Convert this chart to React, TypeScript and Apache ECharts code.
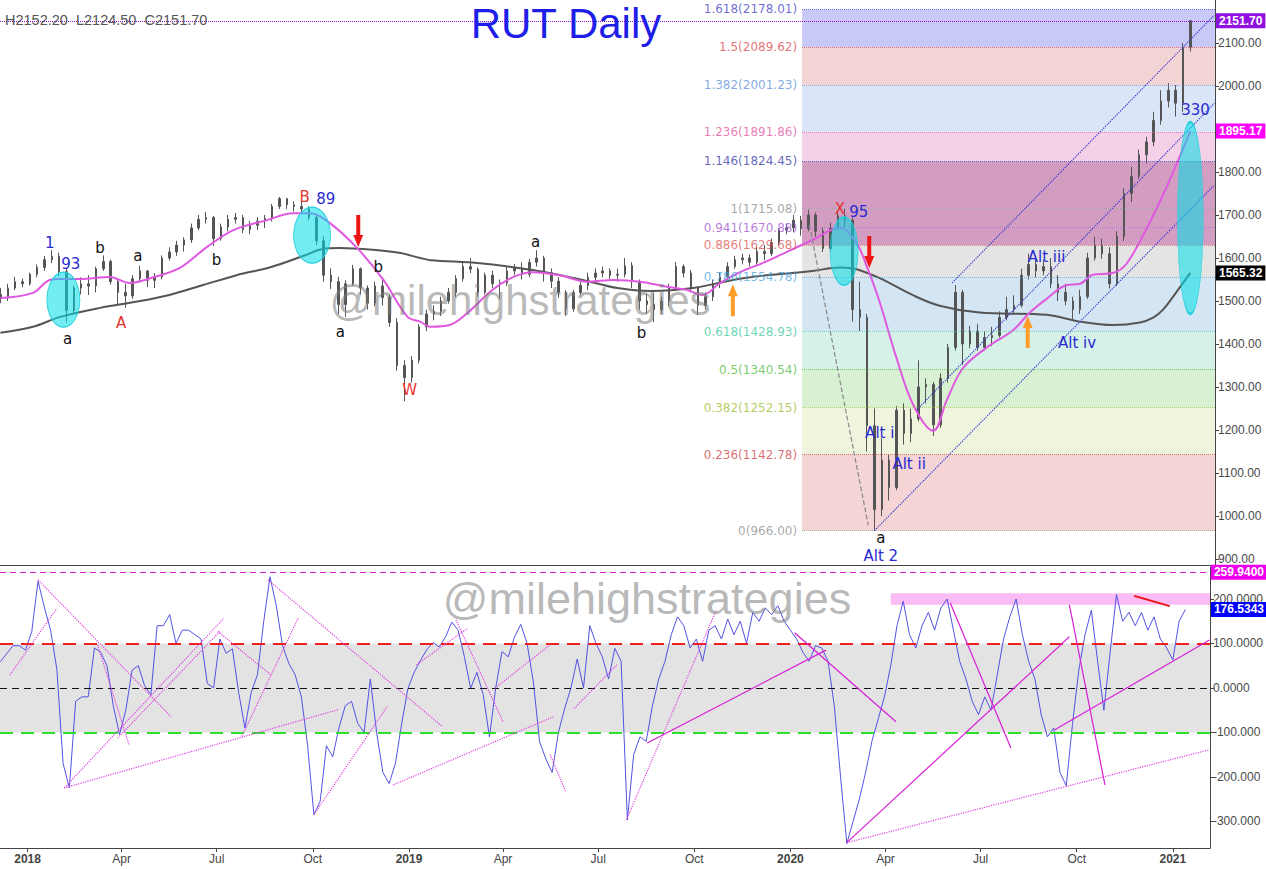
import React, { useEffect, useRef } from "react";
import * as echarts from "echarts";

const DAY = 86400000;
const T = (s: string) => Date.parse(s + "T00:00:00Z");

// ---------------- axis ranges ----------------
const X_MIN = T("2018-01-01") - 26.4 * DAY;
const X_MAX = T("2018-01-01") + 1131.5 * DAY;
const PRICE_MIN = 886;
const PRICE_MAX = 2200;
const CCI_MIN = -360;
const CCI_MAX = 272;

const priceTicks = [900, 1000, 1100, 1200, 1300, 1400, 1500, 1600, 1700, 1800, 1900, 2000, 2100];
const cciTicks = [-300, -200, -100, 0, 100, 200];
const quarterTicks = [
  "2018-01-01", "2018-04-01", "2018-07-01", "2018-10-01",
  "2019-01-01", "2019-04-01", "2019-07-01", "2019-10-01",
  "2020-01-01", "2020-04-01", "2020-07-01", "2020-10-01",
  "2021-01-01",
];
const monthNames = ["", "", "", "Apr", "", "", "Jul", "", "", "Oct", "", ""];

// ---------------- weekly OHLC bars [open, close, low, high] ----------------
const BAR_START = "2017-12-06";
const BAR_STEP_DAYS = 7;
const bars2017_2018 = [
  [1515, 1508, 1495, 1530], [1508, 1530, 1500, 1540], [1530, 1545, 1525, 1556], [1545, 1540, 1532, 1552],
  [1540, 1562, 1536, 1566], [1562, 1578, 1555, 1585], [1578, 1596, 1570, 1605], [1596, 1604, 1588, 1618], [1604, 1568, 1558, 1612],
  [1568, 1478, 1450, 1575], [1478, 1530, 1470, 1536], [1530, 1540, 1515, 1555], [1540, 1535, 1514, 1560],
  [1535, 1575, 1520, 1580], [1575, 1592, 1570, 1606], [1592, 1545, 1538, 1596], [1545, 1520, 1490, 1550],
  [1520, 1512, 1484, 1540], [1512, 1552, 1505, 1560], [1552, 1570, 1545, 1582], [1570, 1548, 1532, 1572],
  [1548, 1556, 1530, 1565], [1556, 1600, 1550, 1606], [1600, 1614, 1594, 1625], [1614, 1630, 1605, 1640], [1630, 1642, 1615, 1648],
  [1642, 1670, 1635, 1680], [1670, 1690, 1665, 1700], [1690, 1694, 1680, 1707], [1694, 1645, 1628, 1698],
  [1645, 1672, 1640, 1680], [1672, 1690, 1662, 1700], [1690, 1694, 1680, 1705], [1694, 1666, 1658, 1700],
  [1666, 1676, 1655, 1686], [1676, 1686, 1665, 1695], [1686, 1692, 1670, 1700], [1692, 1720, 1685, 1726], [1720, 1738, 1714, 1742],
  [1738, 1724, 1714, 1740], [1724, 1720, 1708, 1732], [1720, 1714, 1704, 1730], [1714, 1694, 1688, 1720],
  [1694, 1640, 1630, 1700], [1640, 1560, 1545, 1650], [1560, 1545, 1528, 1576], [1545, 1492, 1470, 1556], [1492, 1540, 1463, 1548],
  [1540, 1575, 1535, 1584], [1575, 1530, 1515, 1578], [1530, 1495, 1480, 1536], [1495, 1535, 1488, 1545],
  [1535, 1508, 1490, 1556], [1508, 1450, 1440, 1515], [1450, 1350, 1338, 1460], [1350, 1322, 1267, 1362],
];
const bars2019 = [
  [1322, 1362, 1310, 1372], [1362, 1440, 1355, 1446], [1440, 1470, 1430, 1480], [1470, 1476, 1455, 1490], [1476, 1500, 1465, 1510],
  [1500, 1520, 1494, 1530], [1520, 1552, 1510, 1560], [1552, 1580, 1545, 1592], [1580, 1574, 1565, 1600],
  [1574, 1520, 1510, 1578], [1520, 1560, 1515, 1566], [1560, 1540, 1530, 1570], [1540, 1542, 1505, 1550],
  [1542, 1570, 1535, 1580], [1570, 1576, 1560, 1586], [1576, 1562, 1550, 1590], [1562, 1590, 1555, 1598],
  [1590, 1600, 1580, 1618], [1600, 1566, 1545, 1605], [1566, 1546, 1530, 1576], [1546, 1520, 1508, 1556], [1520, 1482, 1465, 1525],
  [1482, 1520, 1475, 1526], [1520, 1536, 1514, 1546], [1536, 1555, 1525, 1566], [1555, 1565, 1545, 1576],
  [1565, 1570, 1555, 1580], [1570, 1560, 1550, 1576], [1560, 1562, 1545, 1575], [1562, 1582, 1555, 1600], [1582, 1545, 1530, 1590],
  [1545, 1500, 1480, 1550], [1500, 1492, 1470, 1516], [1492, 1480, 1451, 1518], [1480, 1500, 1470, 1510],
  [1500, 1532, 1488, 1540], [1532, 1580, 1525, 1591], [1580, 1565, 1555, 1585], [1565, 1530, 1520, 1572],
  [1530, 1490, 1467, 1535], [1490, 1510, 1480, 1520], [1510, 1540, 1500, 1550], [1540, 1556, 1530, 1566], [1556, 1580, 1545, 1590],
  [1580, 1596, 1575, 1605], [1596, 1600, 1585, 1610], [1600, 1590, 1580, 1608], [1590, 1615, 1585, 1625],
  [1615, 1610, 1595, 1630], [1610, 1636, 1605, 1645], [1636, 1665, 1630, 1670], [1665, 1670, 1655, 1680],
];
const bars2020_2021 = [
  [1670, 1688, 1660, 1700], [1688, 1668, 1652, 1698], [1668, 1700, 1662, 1712], [1700, 1662, 1650, 1706], [1662, 1622, 1614, 1672],
  [1622, 1670, 1616, 1682], [1670, 1698, 1664, 1710], [1698, 1688, 1672, 1715], [1688, 1480, 1452, 1694],
  [1480, 1462, 1430, 1545], [1462, 1210, 1150, 1470], [1210, 1015, 966, 1250], [1015, 1130, 1000, 1182],
  [1130, 1066, 1036, 1142], [1066, 1246, 1060, 1256], [1246, 1192, 1166, 1262], [1192, 1226, 1172, 1250], [1226, 1300, 1220, 1362],
  [1300, 1306, 1262, 1320], [1306, 1212, 1186, 1312], [1212, 1320, 1205, 1332], [1320, 1392, 1310, 1400],
  [1392, 1520, 1385, 1537], [1520, 1400, 1351, 1526], [1400, 1430, 1390, 1442], [1430, 1392, 1384, 1446],
  [1392, 1415, 1385, 1430], [1415, 1420, 1395, 1440], [1420, 1462, 1415, 1476], [1462, 1480, 1455, 1510], [1480, 1490, 1472, 1513],
  [1490, 1560, 1485, 1575], [1560, 1585, 1550, 1610], [1585, 1570, 1555, 1600], [1570, 1580, 1560, 1596],
  [1580, 1540, 1530, 1600], [1540, 1520, 1500, 1560], [1520, 1500, 1490, 1540], [1500, 1480, 1456, 1510], [1480, 1510, 1470, 1526],
  [1510, 1600, 1505, 1612], [1600, 1630, 1594, 1650], [1630, 1610, 1598, 1645], [1610, 1540, 1529, 1625],
  [1540, 1650, 1535, 1662], [1650, 1750, 1640, 1762], [1750, 1790, 1730, 1812], [1790, 1840, 1784, 1852],
  [1840, 1870, 1820, 1882], [1870, 1920, 1860, 1940], [1920, 1965, 1910, 1990], [1965, 1990, 1950, 2007], [1990, 1960, 1929, 2002],
  [1960, 2090, 1940, 2100], [2090, 2151.7, 2080, 2152.2],
];

// ---------------- moving averages ----------------
const ma50Points: [string, number][] = [
  ["2017-12-06", 1507], ["2018-01-06", 1519], ["2018-01-22", 1549], ["2018-02-01", 1551], ["2018-02-20", 1551],
  ["2018-03-20", 1556], ["2018-04-08", 1542], ["2018-04-28", 1553], ["2018-05-26", 1577], ["2018-06-21", 1626],
  ["2018-07-16", 1665], ["2018-08-17", 1688], ["2018-09-11", 1704], ["2018-09-27", 1704], ["2018-10-16", 1681],
  ["2018-11-11", 1623], ["2018-12-06", 1549], ["2018-12-29", 1463], ["2019-01-10", 1452], ["2019-01-20", 1440],
  ["2019-02-07", 1444], ["2019-02-24", 1472], ["2019-03-20", 1526], ["2019-04-09", 1556], ["2019-04-27", 1567],
  ["2019-05-23", 1560], ["2019-06-18", 1545], ["2019-07-13", 1549], ["2019-08-08", 1545], ["2019-09-02", 1533],
  ["2019-09-21", 1526], ["2019-10-06", 1514], ["2019-10-23", 1542], ["2019-11-11", 1567], ["2019-12-06", 1592],
  ["2019-12-26", 1615], ["2020-01-19", 1642], ["2020-02-14", 1671], ["2020-03-01", 1634], ["2020-03-11", 1578],
  ["2020-03-23", 1497], ["2020-04-08", 1367], ["2020-04-24", 1258], ["2020-05-13", 1198], ["2020-05-26", 1270],
  ["2020-06-10", 1343], ["2020-07-03", 1392], ["2020-07-28", 1432], ["2020-08-13", 1473], ["2020-08-29", 1505],
  ["2020-09-17", 1537], ["2020-09-30", 1540], ["2020-10-12", 1561], ["2020-10-31", 1565], ["2020-11-13", 1586],
  ["2020-12-02", 1667], ["2020-12-18", 1747], ["2021-01-03", 1836], ["2021-01-13", 1895.17],
];
const ma200Points: [string, number][] = [
  ["2017-12-06", 1426], ["2018-01-06", 1440], ["2018-02-01", 1463], ["2018-03-11", 1484], ["2018-04-14", 1498],
  ["2018-05-16", 1514], ["2018-06-17", 1537], ["2018-07-19", 1560], ["2018-08-21", 1579], ["2018-09-23", 1607],
  ["2018-10-09", 1621], ["2018-10-25", 1623], ["2018-11-26", 1619], ["2018-12-21", 1612], ["2019-01-10", 1600],
  ["2019-01-20", 1595], ["2019-03-08", 1588], ["2019-04-27", 1572], ["2019-06-14", 1549], ["2019-07-17", 1530],
  ["2019-08-18", 1523], ["2019-09-27", 1530], ["2019-11-04", 1549], ["2019-12-06", 1560], ["2019-12-26", 1564],
  ["2020-01-19", 1570], ["2020-02-14", 1578], ["2020-03-01", 1574], ["2020-03-23", 1553], ["2020-04-24", 1513],
  ["2020-05-19", 1489], ["2020-06-26", 1473], ["2020-08-29", 1468], ["2020-09-30", 1452], ["2020-10-31", 1444],
  ["2020-11-26", 1450], ["2020-12-09", 1462], ["2020-12-18", 1480], ["2020-12-29", 1515], ["2021-01-13", 1565.32],
];

// ---------------- CCI oscillator ----------------
const CCI_START = "2017-12-06";
const CCI_STEP_DAYS = 6;
const cciValues = [
  59, 77, 95, 95, 85, 127, 240, 182, 130, 42,
  -170, -225, -30, -20, -20, 90, 80, 50, -40, -105,
  -50, 40, 50, 5, -15, 140, 140, 165, 100, 130,
  130, 120, 110, 10, 0, 110, 78, 88, -10, -90,
  -10, 30, 150, 250, 185, 95, 55, 30, -20, -130,
  -285, -255, -130, -155, -90, -40, -30, -80, -100, 20,
  -100, -190, -215, -170, -80, -1, 35, 62, 86, 102,
  92, 115, 148, 130, 70, -1, 35, -15, -110, 0,
  82, 70, 115, 143, 100, 14, -121, -160, -190, -100,
  -46, 0, 65, 0, 140, 100, 70, 20, 89,
  60, -297, -150, -110, -120, -40, 20, 60, 120, 160,
  140, 90, 110, 60, 130, 140, 110, 155, 120, 150,
  100, 170, 150, 180, 165, 185, 150, 130, 110, 80,
  60, 95, 90, 60, -40, -200, -350, -300, -250, -190,
  -120, -70, -20, 50, 140, 195, 120, 90, 140, 170,
  130, 180, 200, 130, 60, 20, -30, -60, -20, -50,
  30, 110, 160, 200, 120, 60, 20, -60, -110, -90,
  -190, -220, -80, 40, 120, 175, 60, -50, 80, 210,
  150, 170, 140, 170, 130, 160, 110, 90, 63, 150, 176.53,
];

// ---------------- Fibonacci levels ----------------
const FIB_START = "2020-01-09";
const fibRatios = ["1.618", "1.5", "1.382", "1.236", "1.146", "1", "0.941", "0.886", "0.786", "0.618", "0.5", "0.382", "0.236", "0"];
const fibValues = [2178.01, 2089.62, 2001.23, 1891.86, 1824.45, 1715.08, 1670.88, 1629.68, 1554.78, 1428.93, 1340.54, 1252.15, 1142.78, 966.0];
const fibLabelColors = ["#3b3bc4", "#d8454a", "#5a8fd8", "#e24f9e", "#3333a6", "#8a8a8a", "#a24fd0", "#d9534f", "#48a5dc", "#37c99c", "#4cba3c", "#9cbd2e", "#cc3f3f", "#8a8a8a"];
const fibBandColors = ["#c9c9f7", "#f3d4d4", "#dae5f8", "#f4d1e7", "#d29dc1", "#d29dc1", "#d29dc1", "#e4e4e4", "#d4e6f3", "#d5f1e8", "#d8f1d2", "#eff5dc", "#f4d4d4"];

// ---------------- annotations ----------------
const waveLabels: [string, number, string, string][] = [
  ["2018-01-22", 1635, "1", "blue"], ["2018-02-11", 1586, "93", "blue"], ["2018-02-08", 1412, "a", "black"],
  ["2018-03-11", 1623, "b", "black"], ["2018-03-31", 1449, "A", "red"], ["2018-04-16", 1605, "a", "black"],
  ["2018-06-30", 1595, "b", "black"], ["2018-09-22", 1742, "B", "red"], ["2018-10-12", 1737, "89", "blue"],
  ["2018-10-26", 1428, "a", "black"], ["2018-12-01", 1578, "b", "black"], ["2018-12-31", 1293, "W", "red"],
  ["2019-04-30", 1637, "a", "black"], ["2019-08-09", 1426, "b", "black"], ["2020-02-14", 1714, "X", "red"],
  ["2020-03-03", 1707, "95", "blue"], ["2020-03-24", 948, "a", "black"], ["2020-03-24", 906, "Alt 2", "blue"],
  ["2020-03-23", 1193, "Alt i", "blue"], ["2020-04-20", 1121, "Alt ii", "blue"], ["2020-08-29", 1603, "Alt iii", "blue"],
  ["2020-09-27", 1402, "Alt iv", "blue"], ["2021-01-18", 1944, "330", "blue"],
];
const ellipseAnchors: [string, number][] = [["2018-02-04", 1503], ["2018-09-29", 1653], ["2020-02-18", 1616], ["2021-01-13", 1693]];
const ellipseSizes = [[33, 55], [37, 56], [28, 68], [26, 192]];
const downArrows: [string, number][] = [["2018-11-12", 1663], ["2020-03-13", 1614]];
const upArrows: [string, number][] = [["2019-11-04", 1502], ["2020-08-11", 1428]];
const channelLines: [string, number, string, number][] = [
  ["2020-03-18", 966, "2021-02-05", 1770],
  ["2020-04-27", 1246, "2021-02-05", 1960],
  ["2020-05-31", 1542, "2021-02-05", 2165],
];
const dashedLine: [string, number, string, number] = ["2020-01-16", 1677, "2020-03-12", 979];

const cciDotted: [string, number, string, number][] = [
  ["2017-12-05", 245, "2021-02-05", 175],
  ["2017-12-15", 29, "2018-01-29", 179], ["2018-01-11", 243, "2018-05-18", -64], ["2018-02-05", -225, "2018-10-25", -49],
  ["2018-02-05", -225, "2018-07-08", 157], ["2018-03-09", 97, "2018-04-08", -128], ["2018-03-28", -113, "2018-07-04", 127],
  ["2018-07-02", 127, "2018-08-22", 29], ["2018-07-25", -109, "2018-09-17", 157], ["2018-08-19", 243, "2019-02-02", -87],
  ["2018-10-02", -285, "2018-12-11", -42], ["2018-12-17", -218, "2019-05-20", -64], ["2019-01-08", 52, "2019-02-26", 134],
  ["2019-02-15", 153, "2019-04-01", -76], ["2019-03-24", -1, "2019-05-16", 97], ["2019-05-16", -150, "2019-05-31", -233],
  ["2019-06-08", -46, "2019-07-19", 52], ["2019-07-28", -297, "2019-10-22", 175], ["2020-02-24", -348, "2021-02-05", -139],
];
const cciSolid: [string, number, string, number][] = [
  ["2019-08-17", -124, "2020-02-04", 85], ["2020-01-05", 124, "2020-04-11", -76], ["2020-02-24", -348, "2020-09-24", 115],
  ["2020-06-02", 191, "2020-07-30", -135], ["2020-09-24", 187, "2020-10-28", -218], ["2020-09-10", -94, "2021-02-05", 108],
];
const cciRedLine: [string, number, string, number] = ["2020-11-25", 207, "2020-12-29", 184];

const AX_FONT = "Liberation Sans";
const ANN_FONT = "DejaVu Sans";
const annColors: Record<string, string> = { blue: "#2a2ad2", black: "#111111", red: "#e5322d" };

function seg(l: [string, number, string, number], lineStyle: any) {
  return [{ coord: [T(l[0]), l[1]], lineStyle }, { coord: [T(l[2]), l[3]] }];
}

function badge(value: number, text: string, bg: string, lineStyle: any) {
  return {
    yAxis: value,
    lineStyle,
    label: {
      show: true, position: "end", formatter: text, distance: 1,
      backgroundColor: bg, color: "#ffffff", padding: [2, 3, 1, 3],
      fontFamily: AX_FONT, fontSize: 12, fontWeight: "bold",
    },
  };
}

function buildOption() {
  const allBars = [...bars2017_2018, ...bars2019, ...bars2020_2021];
  const barData = allBars.map((b, i) => [T(BAR_START) + i * BAR_STEP_DAYS * DAY, b[0], b[1], b[2], b[3]]);
  const cciData = cciValues.map((v, i) => [T(CCI_START) + i * CCI_STEP_DAYS * DAY, v]);
  const fibStart = T(FIB_START);

  const fibAreas = fibBandColors.map((c, i) => [
    { xAxis: fibStart, yAxis: fibValues[i + 1], itemStyle: { color: c } },
    { xAxis: X_MAX, yAxis: fibValues[i] },
  ]);
  const fibLines = fibValues.map((v, i) => [
    {
      coord: [fibStart, v],
      lineStyle: { color: fibLabelColors[i], type: "dotted", width: 1, opacity: 0.75 },
      label: {
        show: true, position: "start", distance: 5,
        formatter: `${fibRatios[i]}(${v.toFixed(2)})`,
        color: fibLabelColors[i], fontFamily: ANN_FONT, fontSize: 12,
      },
    },
    { coord: [X_MAX, v] },
  ]);

  const textPoints = waveLabels.map(([d, p, text, kind]) => ({
    coord: [T(d), p],
    symbol: "rect",
    symbolSize: 1,
    itemStyle: { color: "rgba(0,0,0,0)" },
    label: {
      show: true, position: "inside", formatter: text, lineHeight: 16,
      color: annColors[kind], fontSize: 15, fontFamily: ANN_FONT,
    },
  }));
  const ellipsePoints = ellipseAnchors.map(([d, p], i) => ({
    coord: [T(d), p],
    symbol: "circle",
    symbolSize: ellipseSizes[i],
    itemStyle: { color: "rgba(0, 222, 232, 0.55)", borderColor: "#22cfdc", borderWidth: 1 },
    label: { show: false },
  }));
  const downPoints = downArrows.map(([d, p]) => ({
    coord: [T(d), p],
    symbol: "path://M3,0L7,0L7,20L10,20L5,32L0,20L3,20Z",
    symbolSize: [10, 32],
    itemStyle: { color: "#ee1515" },
    label: { show: false },
  }));
  const upPoints = upArrows.map(([d, p]) => ({
    coord: [T(d), p],
    symbol: "path://M5,0L10,12L7,12L7,32L3,32L3,12L0,12Z",
    symbolSize: [10, 32],
    itemStyle: { color: "#ff9d2a" },
    label: { show: false },
  }));

  const dotted = { color: "#e040e0", type: "dotted", width: 1.2 };
  const solid = { color: "#d81ed8", type: "solid", width: 1.2 };
  const quarterValues = quarterTicks.map(T);

  return {
    animation: false,
    backgroundColor: "#ffffff",
    grid: [
      { left: 0, right: 51, top: 0, height: 565 },
      { left: 0, right: 51, top: 567, height: 281 },
    ],
    xAxis: [
      {
        type: "value", gridIndex: 0, min: X_MIN, max: X_MAX, scale: true,
        axisLine: { show: true, onZero: false, lineStyle: { color: "#444", width: 1 } },
        axisTick: { show: false }, axisLabel: { show: false }, splitLine: { show: false },
      },
      {
        type: "value", gridIndex: 1, min: X_MIN, max: X_MAX, scale: true,
        axisLine: { show: true, onZero: false, lineStyle: { color: "#444", width: 1 } },
        axisTick: { show: true, length: 4, lineStyle: { color: "#444" }, customValues: quarterValues },
        axisLabel: {
          show: true, margin: 5, color: "#444", fontSize: 12, fontFamily: AX_FONT,
          customValues: quarterValues,
          formatter: (v: number) => {
            const d = new Date(v);
            const m = d.getUTCMonth();
            return m === 0 ? `{y|${d.getUTCFullYear()}}` : monthNames[m];
          },
          rich: { y: { fontWeight: "bold", color: "#444", fontSize: 12, fontFamily: AX_FONT } },
        },
        splitLine: { show: false },
      },
    ],
    yAxis: [
      {
        type: "value", gridIndex: 0, position: "right", min: PRICE_MIN, max: PRICE_MAX,
        axisLine: { show: true, lineStyle: { color: "#444" } },
        axisTick: { show: true, length: 4, lineStyle: { color: "#444" }, customValues: priceTicks },
        axisLabel: {
          show: true, margin: 3, color: "#4a4a4a", fontSize: 12, fontFamily: AX_FONT,
          customValues: priceTicks, formatter: (v: number) => v.toFixed(2),
        },
        splitLine: { show: false },
      },
      {
        type: "value", gridIndex: 1, position: "right", min: CCI_MIN, max: CCI_MAX,
        axisLine: { show: true, lineStyle: { color: "#444" } },
        axisTick: { show: true, length: 4, lineStyle: { color: "#444" }, customValues: cciTicks },
        axisLabel: {
          show: true, margin: 3, color: "#4a4a4a", fontSize: 12, fontFamily: AX_FONT,
          customValues: cciTicks, formatter: (v: number) => v.toFixed(4).slice(0, 8),
        },
        splitLine: { show: false },
      },
    ],
    graphic: [
      {
        type: "text", x: 5, y: 20, z: 50,
        style: { text: "H2152.20  L2124.50  C2151.70", fill: "#555555", font: `14.5px "${AX_FONT}"`, verticalAlign: "middle" },
      },
      {
        type: "text", x: 566, y: 23, z: 50,
        style: { text: "RUT Daily", fill: "#1e1ee8", font: `42px "${AX_FONT}"`, align: "center", verticalAlign: "middle" },
      },
      {
        type: "text", x: 520, y: 300, z: 50,
        style: { text: "@milehighstrategies", fill: "rgba(125,125,125,0.55)", font: `42px "${AX_FONT}"`, align: "center", verticalAlign: "middle" },
      },
      {
        type: "text", x: 647, y: 598, z: 50,
        style: { text: "@milehighstrategies", fill: "rgba(125,125,125,0.55)", font: `45px "${AX_FONT}"`, align: "center", verticalAlign: "middle" },
      },
    ],
    series: [
      {
        name: "fib", type: "line", xAxisIndex: 0, yAxisIndex: 0, z: 1,
        data: [[fibStart, 966]], symbol: "none", lineStyle: { opacity: 0 },
        markArea: { silent: true, data: fibAreas },
        markLine: {
          silent: true, symbol: ["none", "none"], label: { show: false },
          data: [
            ...fibLines,
            badge(2151.7, "2151.70", "#9012e0", { color: "#8a10d8", type: "dotted", width: 1 }),
            badge(1895.17, "1895.17", "#ff00ff", { color: "rgba(0,0,0,0)", width: 0 }),
            badge(1565.32, "1565.32", "#000000", { color: "rgba(0,0,0,0)", width: 0 }),
          ],
        },
      },
      {
        name: "RUT", type: "candlestick", xAxisIndex: 0, yAxisIndex: 0, z: 2,
        data: barData, encode: { x: 0, y: [1, 2, 3, 4] }, barWidth: 2,
        itemStyle: { color: "#555555", color0: "#555555", borderColor: "#555555", borderColor0: "#555555", borderWidth: 1 },
      },
      {
        name: "MA200", type: "line", xAxisIndex: 0, yAxisIndex: 0, z: 3,
        data: ma200Points.map(([d, v]) => [T(d), v]), symbol: "none", smooth: 0.35,
        lineStyle: { color: "#555555", width: 2 },
      },
      {
        name: "MA50", type: "line", xAxisIndex: 0, yAxisIndex: 0, z: 3,
        data: ma50Points.map(([d, v]) => [T(d), v]), symbol: "none", smooth: 0.35,
        lineStyle: { color: "#e058e0", width: 2 },
      },
      {
        name: "annotations", type: "line", xAxisIndex: 0, yAxisIndex: 0, z: 4,
        data: [[fibStart, 966]], symbol: "none", lineStyle: { opacity: 0 },
        markLine: {
          silent: true, symbol: ["none", "none"], label: { show: false },
          data: [
            ...channelLines.map((l) => seg(l, { color: "#3434d4", type: "dotted", width: 1.2 })),
            seg(dashedLine, { color: "#888888", type: "dashed", width: 1.2 }),
          ],
        },
        markPoint: { silent: true, data: [...ellipsePoints, ...downPoints, ...upPoints, ...textPoints] },
      },
      {
        name: "CCI", type: "line", xAxisIndex: 1, yAxisIndex: 1, z: 3,
        data: cciData, symbol: "none",
        lineStyle: { color: "#5252e4", width: 1 },
        markArea: {
          silent: true,
          data: [
            [{ xAxis: X_MIN, yAxis: -100, itemStyle: { color: "#e3e3e3" } }, { xAxis: X_MAX, yAxis: 100 }],
            [{ xAxis: T("2020-04-06"), yAxis: 187, itemStyle: { color: "rgba(246,160,240,0.7)" } }, { xAxis: X_MAX, yAxis: 213 }],
          ],
        },
        markLine: {
          silent: true, symbol: ["none", "none"], label: { show: false },
          data: [
            { yAxis: 100, lineStyle: { color: "#ee2020", type: [13, 8], width: 2 } },
            { yAxis: -100, lineStyle: { color: "#2ee02e", type: [13, 8], width: 2 } },
            { yAxis: 0, lineStyle: { color: "#111111", type: [7, 5], width: 1 } },
            badge(259.94, "259.9400", "#ee00ee", { color: "#d020d0", type: [6, 4], width: 1 }),
            badge(176.5343, "176.5343", "#0000ff", { color: "rgba(0,0,0,0)", width: 0 }),
            ...cciDotted.map((l) => seg(l, dotted)),
            ...cciSolid.map((l) => seg(l, solid)),
            seg(cciRedLine, { color: "#ee1111", type: "solid", width: 2 }),
          ],
        },
      },
    ],
  };
}

export default function App() {
  const ref = useRef<HTMLDivElement>(null);
  useEffect(() => {
    document.body.style.margin = "0";
    const chart = echarts.init(ref.current as HTMLDivElement, null, { renderer: "svg" });
    chart.setOption(buildOption() as any);
    return () => chart.dispose();
  }, []);
  return <div ref={ref} style={{ width: 1266, height: 869, background: "#ffffff" }} />;
}
